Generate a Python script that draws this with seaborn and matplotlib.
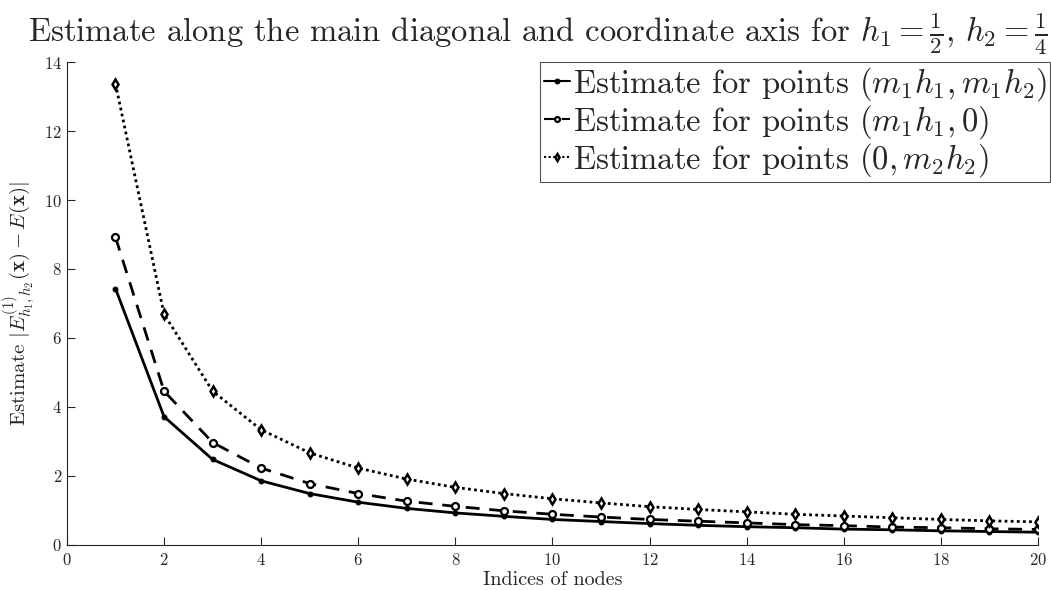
import matplotlib
matplotlib.use("Agg")
import matplotlib.pyplot as plt
import seaborn as sns
import pandas as pd

# Node indices and error estimates for the three families of points
nodes = list(range(1, 21))
est_diag = [7.43, 3.72, 2.48, 1.86, 1.49, 1.24, 1.06, 0.93, 0.83, 0.74,
            0.68, 0.62, 0.57, 0.53, 0.50, 0.46, 0.44, 0.41, 0.39, 0.37]
est_axis1 = [8.92, 4.46, 2.97, 2.23, 1.78, 1.49, 1.27, 1.12, 0.99, 0.89,
             0.81, 0.74, 0.69, 0.64, 0.59, 0.56, 0.52, 0.50, 0.47, 0.45]
est_axis2 = [13.37, 6.69, 4.46, 3.34, 2.67, 2.23, 1.91, 1.67, 1.49, 1.34,
             1.22, 1.11, 1.03, 0.96, 0.89, 0.84, 0.79, 0.74, 0.70, 0.67]
labels = [r"Estimate for points $(m_1h_1, m_1h_2)$",
          r"Estimate for points $(m_1h_1, 0)$",
          r"Estimate for points $(0, m_2h_2)$"]
xticks = list(range(0, 21, 2))
yticks = list(range(0, 15, 2))

sns.set_style("ticks")
plt.rcParams.update({
    "font.family": "serif",
    "font.serif": ["cmr10", "DejaVu Serif"],
    "mathtext.fontset": "cm",
    "axes.formatter.use_mathtext": True,
    "axes.unicode_minus": False,
})

fig = plt.figure(figsize=(10.51, 5.90), dpi=100)
ax = fig.add_axes([0.0637, 0.0763, 0.9239, 0.8186])

styles = [
    dict(linestyle="-", marker="o", markersize=3.5, markerfacecolor="black"),
    dict(linestyle=(0, (5, 3.5)), marker="o", markersize=5, markerfacecolor="white",
         markeredgewidth=1.6),
    dict(linestyle=(0, (1, 1.2)), marker="d", markersize=5.5, markerfacecolor="white",
         markeredgewidth=1.8),
]
for vals, lab, st in zip([est_diag, est_axis1, est_axis2], labels, styles):
    df = pd.DataFrame({"node": nodes, "est": vals})
    sns.lineplot(data=df, x="node", y="est", ax=ax, color="black", linewidth=2.0,
                 markeredgecolor="black", label=lab, **st)

ax.set_xlim(0, 20)
ax.set_ylim(0, 14)
ax.set_xticks(xticks)
ax.set_yticks(yticks)
ax.tick_params(direction="in", length=6, width=0.8, colors="#262626",
               labelsize=12, labelcolor="#262626")
ax.tick_params(axis="x", pad=5)
for side in ("top", "right"):
    ax.spines[side].set_visible(False)
for side in ("left", "bottom"):
    ax.spines[side].set_color("#262626")
    ax.spines[side].set_linewidth(0.8)

ax.set_xlabel("Indices of nodes", fontsize=14.5, labelpad=2, color="#262626")
ax.set_ylabel(r"Estimate $|E^{(1)}_{h_1,h_2}(\mathbf{x}) - E(\mathbf{x})|$",
              fontsize=15, labelpad=4, color="#262626")
fig.text(0.512, 0.93,
         r"Estimate along the main diagonal and coordinate axis for $h_1=\frac{1}{2}$, $h_2=\frac{1}{4}$",
         ha="center", va="baseline", fontsize=23.5)

leg = ax.legend(loc="upper right", bbox_to_anchor=(0.9995, 0.895),
                bbox_transform=fig.transFigure, fontsize=23.5, frameon=True,
                fancybox=False, edgecolor="#262626", handlelength=0.8,
                handletextpad=0.1, borderpad=0.1, labelspacing=0.0,
                borderaxespad=0)
leg.get_frame().set_linewidth(0.8)
for line in leg.get_lines():
    line.set_linewidth(1.5)
    line.set_markersize(3.5)

fig.savefig("out.png", dpi=100)
